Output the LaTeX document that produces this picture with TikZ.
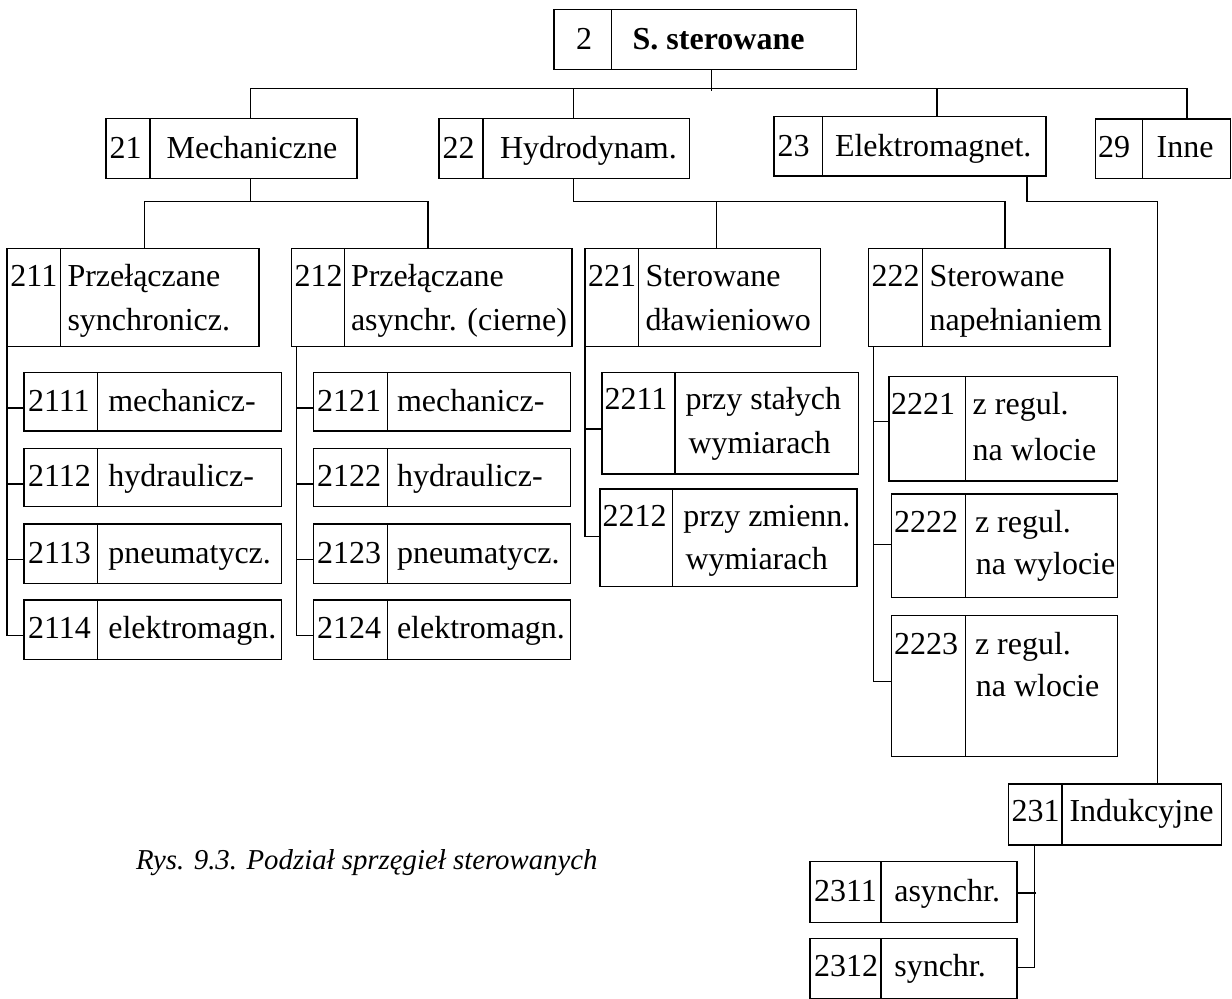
\documentclass[tikz,border=0pt]{standalone}
\usepackage{fontspec}
\setmainfont{Liberation Serif}
\begin{document}
\begin{tikzpicture}[x=0.5pt,y=-0.5pt,line width=0.65pt,
  cell/.style={draw,rectangle,inner sep=0pt,outer sep=0pt},
  txt/.style={inner sep=0pt,outer sep=0pt,anchor=base west,font=\fontsize{16}{19}\selectfont},
  btxt/.style={txt,font=\fontsize{16}{19}\selectfont\bfseries},
  captxt/.style={txt,font=\fontsize{14.4}{17}\selectfont\itshape}]
\useasboundingbox (0,0) rectangle (1232,999);
% box: name, left, top, divider x, right, bottom
\newcommand\cbox[6]{%
  \node[cell,anchor=north west,minimum width={(#5-#2)*0.5pt},minimum height={(#6-#3)*0.5pt}] (#1) at (#2,#3) {};
  \draw (#4,#3) -- (#4,#6);}

% level 0
\cbox{n2}{554}{9.3}{611.7}{856.7}{69.3}
\node[txt,anchor=base] (n2-a) at (584,49.3) {2};
\node[btxt] (n2-b) at (632.7,49.3) {S. sterowane};

% level 1
\cbox{n21}{106}{118.5}{150}{357}{178.3}
\node[txt] (n21-a) at (109.5,158.3) {21};
\node[txt] (n21-b) at (166.7,158.3) {Mechaniczne};
\cbox{n22}{439}{118.5}{483}{689.5}{178.3}
\node[txt] (n22-a) at (442.5,158.3) {22};
\node[txt] (n22-b) at (500,158.3) {Hydrodynam.};
\cbox{n23}{774}{116.7}{822.3}{1046}{176}
\node[txt] (n23-a) at (777.5,156.5) {23};
\node[txt] (n23-b) at (835,156.5) {Elektromagnet.};
\cbox{n29}{1095.7}{119}{1142.3}{1230.5}{178.5}
\node[txt] (n29-a) at (1098,158) {29};
\node[txt] (n29-b) at (1156.7,158) {Inne};

% level 2
\cbox{n211}{7}{248.3}{60.5}{259}{346.7}
\node[txt] (n211-a) at (10.5,286.7) {211};
\node[txt] (n211-b) at (67.5,286.7) {Przełączane};
\node[txt] (n211-c) at (67.5,330.2) {synchronicz.};
\cbox{n212}{291.6}{248.3}{344.4}{572}{346.7}
\node[txt] (n212-a) at (294.5,286.7) {212};
\node[txt] (n212-b) at (351,286.7) {Przełączane};
\node[txt] (n212-c) at (351,330.2) {asynchr. (cierne)};
\cbox{n221}{585}{248.3}{638.3}{820.7}{346.7}
\node[txt] (n221-a) at (588,286.7) {221};
\node[txt] (n221-b) at (645.5,286.7) {Sterowane};
\node[txt] (n221-c) at (645.5,330.2) {dławieniowo};
\cbox{n222}{868.6}{248.3}{922.2}{1110}{346.7}
\node[txt] (n222-a) at (871.5,286.7) {222};
\node[txt] (n222-b) at (929.5,286.7) {Sterowane};
\node[txt] (n222-c) at (929.5,330.2) {napełnianiem};
\cbox{n231}{1008.3}{784}{1062}{1221.7}{845}
\node[txt] (n231-a) at (1011.5,821.7) {231};
\node[txt] (n231-b) at (1069.5,821.7) {Indukcyjne};

% level 3 under 211
\cbox{n2111}{24}{372.3}{97.7}{281.7}{431}
\node[txt] (n2111-a) at (28,411.7) {2111};
\node[txt] (n2111-b) at (108.3,411.7) {mechanicz-};
\cbox{n2112}{24}{448.3}{97.7}{281.7}{506.7}
\node[txt] (n2112-a) at (28,486.7) {2112};
\node[txt] (n2112-b) at (108.3,486.7) {hydraulicz-};
\cbox{n2113}{24}{524}{97.7}{281.7}{583.3}
\node[txt] (n2113-a) at (28,563.3) {2113};
\node[txt] (n2113-b) at (108.3,563.3) {pneumatycz.};
\cbox{n2114}{24}{600}{97.7}{281.7}{659.3}
\node[txt] (n2114-a) at (28,639) {2114};
\node[txt] (n2114-b) at (108.3,639) {elektromagn.};

% level 3 under 212
\cbox{n2121}{313.8}{372.3}{387.3}{570.2}{431}
\node[txt] (n2121-a) at (317,411.7) {2121};
\node[txt] (n2121-b) at (397,411.7) {mechanicz-};
\cbox{n2122}{313.8}{448.3}{387.3}{570.2}{506.7}
\node[txt] (n2122-a) at (317,486.7) {2122};
\node[txt] (n2122-b) at (397,486.7) {hydraulicz-};
\cbox{n2123}{313.8}{524}{387.3}{570.2}{583.3}
\node[txt] (n2123-a) at (317,563.3) {2123};
\node[txt] (n2123-b) at (397,563.3) {pneumatycz.};
\cbox{n2124}{313.8}{600}{387.3}{570.2}{659.3}
\node[txt] (n2124-a) at (317,639) {2124};
\node[txt] (n2124-b) at (397,639) {elektromagn.};

% level 3 under 221
\cbox{n2211}{602}{372.3}{674.9}{858.7}{474}
\node[txt] (n2211-a) at (604.5,410) {2211};
\node[txt] (n2211-b) at (685.5,410) {przy stałych};
\node[txt] (n2211-c) at (688.5,453.3) {wymiarach};
\cbox{n2212}{600}{489}{672.7}{857}{586.7}
\node[txt] (n2212-a) at (602.5,526.7) {2212};
\node[txt] (n2212-b) at (683.4,526.7) {przy zmienn.};
\node[txt] (n2212-c) at (685.6,570) {wymiarach};

% level 3 under 222
\cbox{n2221}{889}{376.7}{965.7}{1117.7}{481}
\node[txt] (n2221-a) at (891,415) {2221};
\node[txt] (n2221-b) at (972.7,415) {z regul.};
\node[txt] (n2221-c) at (972.7,460.7) {na wlocie};
\cbox{n2222}{891.3}{494}{965.7}{1117.7}{597.7}
\node[txt] (n2222-a) at (894,532.7) {2222};
\node[txt] (n2222-b) at (975,532.7) {z regul.};
\node[txt] (n2222-c) at (975.8,575) {na wylocie};
\cbox{n2223}{891.3}{615.7}{965.7}{1117.7}{756.7}
\node[txt] (n2223-a) at (894,655) {2223};
\node[txt] (n2223-b) at (975,655) {z regul.};
\node[txt] (n2223-c) at (975.8,696.7) {na wlocie};

% level 3 under 231
\cbox{n2311}{810}{861.7}{881}{1017}{922.7}
\node[txt] (n2311-a) at (814,901) {2311};
\node[txt] (n2311-b) at (894.3,901) {asynchr.};
\cbox{n2312}{810}{938.3}{881}{1017}{998.3}
\node[txt] (n2312-a) at (814,976.7) {2312};
\node[txt] (n2312-b) at (894.3,976.7) {synchr.};

% caption
\node[captxt] (cap) at (136,869) {Rys. 9.3. Podział sprzęgieł sterowanych};

% connectors: top bus
\coordinate (b0) at (711.7,90.7);
\draw (n2.south -| b0) -- (b0);
\coordinate (bL) at (250.5,88.3);
\coordinate (bR) at (1187,88.3);
\draw (n21.north -| bL) -- (bL) -- (bR) -- (n29.north -| bR);
\draw (n22.north -| 573.3,0) -- (573.3,88.3);
\draw (n23.north -| 937,0) -- (937,88.3);

% 21 -> 211, 212
\coordinate (m1) at (144.7,201.7);
\coordinate (m2) at (428,201.7);
\draw (n21.south -| 250.5,0) -- (250.5,201.7);
\draw (n211.north -| m1) -- (m1) -- (m2) -- (n212.north -| m2);

% 22 -> 221, 222
\coordinate (h1) at (716.7,201.7);
\coordinate (h2) at (1005,201.7);
\draw (n22.south -| 573.3,0) -- (573.3,201.7) -- (h2) -- (n222.north -| h2);
\draw (h1) -- (n221.north -| h1);

% 23 -> 231
\coordinate (e1) at (1027,201.7);
\coordinate (e2) at (1157.5,201.7);
\draw (n23.south -| e1) -- (e1) -- (e2) -- (n231.north -| e2);

% 211 -> children
\coordinate (t211) at (7,635.7);
\draw (n211.south -| t211) -- (t211) -- (n2114.west |- t211);
\draw (7,408) -- (n2111.west |- 0,408);
\draw (7,484) -- (n2112.west |- 0,484);
\draw (7,559.3) -- (n2113.west |- 0,559.3);

% 212 -> children
\coordinate (t212) at (296.6,635.7);
\draw (n212.south -| t212) -- (t212) -- (n2124.west |- t212);
\draw (296.6,408) -- (n2121.west |- 0,408);
\draw (296.6,484) -- (n2122.west |- 0,484);
\draw (296.6,559.3) -- (n2123.west |- 0,559.3);

% 221 -> children
\coordinate (t221) at (585,536.5);
\draw (n221.south -| t221) -- (t221) -- (n2212.west |- t221);
\draw (585,429) -- (n2211.west |- 0,429);

% 222 -> children
\coordinate (t222) at (873.7,681.7);
\draw (n222.south -| t222) -- (t222) -- (n2223.west |- t222);
\draw (873.7,421.7) -- (n2221.west |- 0,421.7);
\draw (873.7,544.3) -- (n2222.west |- 0,544.3);

% 231 -> children
\coordinate (t231) at (1034.3,967.7);
\draw (n231.south -| t231) -- (t231) -- (n2312.east |- t231);
\draw (1036,893) -- (n2311.east |- 0,893);
\end{tikzpicture}
\end{document}
